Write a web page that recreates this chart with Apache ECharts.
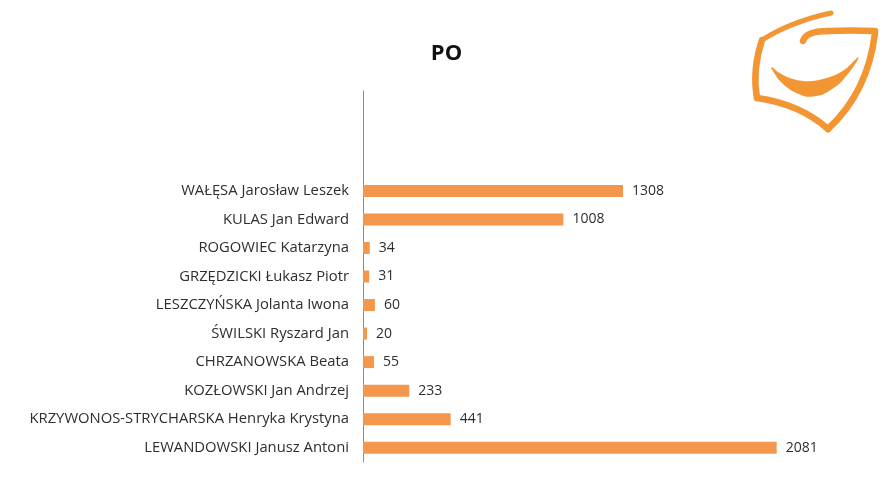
<!DOCTYPE html>
<html>
<head>
<meta charset="utf-8">
<script src="https://cdn.jsdelivr.net/npm/echarts@6/dist/echarts.min.js"></script>
<style>
  html, body { margin: 0; padding: 0; background: #fff; }
  #chart { width: 893px; height: 502px; }
</style>
</head>
<body>
<div id="chart"></div>
<script>
// kandydaci (od góry do dołu) i liczba głosów
const names = [
  'WAŁĘSA Jarosław Leszek',
  'KULAS Jan Edward',
  'ROGOWIEC Katarzyna',
  'GRZĘDZICKI Łukasz Piotr',
  'LESZCZYŃSKA Jolanta Iwona',
  'ŚWILSKI Ryszard Jan',
  'CHRZANOWSKA Beata',
  'KOZŁOWSKI Jan Andrzej',
  'KRZYWONOS-STRYCHARSKA Henryka Krystyna',
  'LEWANDOWSKI Janusz Antoni'
];
const votes = [1308, 1008, 34, 31, 60, 20, 55, 233, 441, 2081];

// puste miejsca nad słupkami (jak w oryginale)
const blanks = [' ', '  ', '   '];

const chart = echarts.init(document.getElementById('chart'));
const orange = '#F4964B';
const logo = '#F29634';
const logoLine = { fill: null, stroke: logo, lineWidth: 6.5, lineCap: 'round' };

// logo PO - krzywe rysowane ręcznie
function curve(x1, y1, cx, cy, x2, y2, w) {
  return { type: 'bezierCurve', shape: { x1, y1, cpx1: cx, cpy1: cy, x2, y2 },
    style: Object.assign({}, logoLine, w ? { lineWidth: w } : {}) };
}

chart.setOption({
  backgroundColor: '#fff',
  animation: false,
  title: {
    text: 'PO', left: 'center', top: 38,
    textStyle: { fontFamily: 'Open Sans', fontWeight: 'bold', fontSize: 22, color: '#111' }
  },
  grid: { left: 363, top: 91, bottom: 40, width: 497 },
  xAxis: { type: 'value', min: 0, max: 2500, show: false },
  yAxis: {
    type: 'category', inverse: true,
    data: blanks.concat(names),
    axisLine: { lineStyle: { color: '#8a8a8a', width: 1 } },
    axisTick: { show: false },
    axisLabel: { margin: 14, fontFamily: 'Open Sans', fontSize: 14.8, color: '#2e2e2e' }
  },
  series: [{
    type: 'bar',
    data: blanks.map(() => null).concat(votes),
    barWidth: 12,
    itemStyle: { color: orange },
    label: {
      show: true, position: 'right', distance: 9,
      fontFamily: 'Open Sans', fontSize: 14, color: '#2e2e2e'
    }
  }],
  graphic: [
    curve(831, 13, 790, 22, 762, 40, 5),
    curve(762, 40, 752, 70, 757, 98),
    curve(757, 98, 800, 104, 828, 129),
    curve(828, 129, 868, 92, 875, 33),
    curve(803, 41, 806, 31, 828, 31),
    curve(828, 31, 852, 30, 875, 31),
    {
      type: 'polygon',
      shape: {
        points: [[772, 68], [780, 80], [792, 90], [807, 96], [822, 94], [838, 84], [850, 70], [858, 58],
          [848, 68], [835, 76], [818, 81], [805, 82], [790, 79], [778, 73]],
        smooth: 0.2
      },
      style: { fill: logo, stroke: logo, lineWidth: 1.5 }
    }
  ]
});
</script>
</body>
</html>
